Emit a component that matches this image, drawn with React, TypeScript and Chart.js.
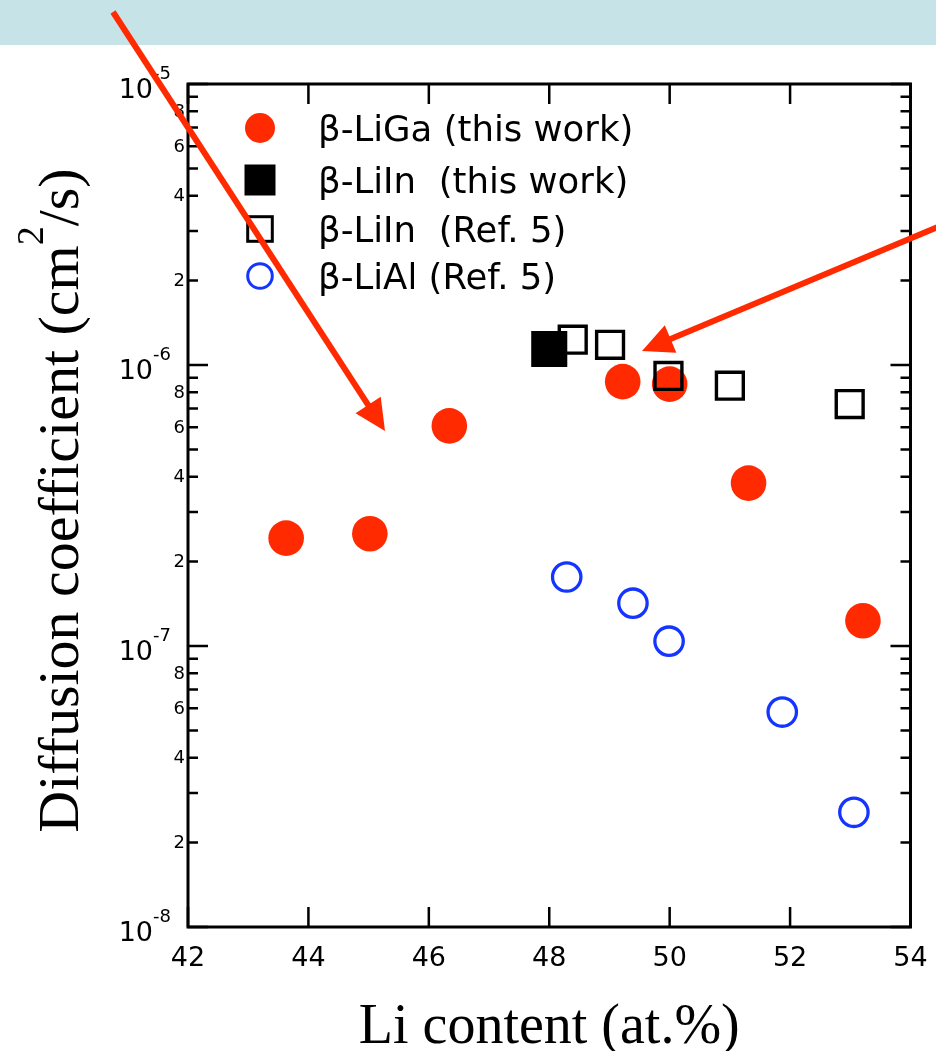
import { useEffect, useRef } from 'react';
import { Chart, registerables } from 'chart.js';

Chart.register(...registerables);

// ---- data ----
const liGaX = [43.63, 45.02, 46.34, 49.22, 50.0, 51.31, 53.21];
const liGaY = [2.42e-7, 2.51e-7, 6.07e-7, 8.73e-7, 8.55e-7, 3.8e-7, 1.23e-7];
const liInThisX = [48.0];
const liInThisY = [1.14e-6];
const liInRefX = [48.39, 49.01, 49.98, 51.0, 52.99];
const liInRefY = [1.23e-6, 1.18e-6, 9.14e-7, 8.44e-7, 7.26e-7];
const liAlX = [48.29, 49.39, 49.99, 51.87, 53.06];
const liAlY = [1.76e-7, 1.42e-7, 1.04e-7, 5.82e-8, 2.56e-8];

const seriesLabels = ['β-LiGa (this work)', 'β-LiIn  (this work)', 'β-LiIn  (Ref. 5)', 'β-LiAl (Ref. 5)'];
const xTickValues = [42, 44, 46, 48, 50, 52, 54];
const yDecades = [-8, -7, -6, -5];
const yMinorMultipliers = [2, 3, 4, 5, 6, 7, 8, 9];
const yMinorLabels = [2, 4, 6, 8];
const xTitle = 'Li content (at.%)';
const yTitleMain = 'Diffusion coefficient (cm';
const yTitleSup = '2';
const yTitleEnd = '/s)';

const RED = '#ff2a00';
const BLUE = '#1434ff';
const BAND = '#c6e4e8';
const SANS = '"DejaVu Sans", sans-serif';
const SERIF = '"Liberation Serif", "Times New Roman", serif';

const pts = (xs: number[], ys: number[]) => xs.map((x, i) => ({ x, y: ys[i] }));

function drawArrow(ctx: CanvasRenderingContext2D, x0: number, y0: number, tx: number, ty: number) {
  const dx = tx - x0, dy = ty - y0;
  const len = Math.hypot(dx, dy);
  const ux = dx / len, uy = dy / len;
  const headLen = 31, half = 15;
  const bx = tx - ux * headLen, by = ty - uy * headLen;
  ctx.save();
  ctx.strokeStyle = RED;
  ctx.fillStyle = RED;
  ctx.lineWidth = 6;
  ctx.beginPath();
  ctx.moveTo(x0, y0);
  ctx.lineTo(bx + ux * 2, by + uy * 2);
  ctx.stroke();
  ctx.beginPath();
  ctx.moveTo(tx, ty);
  ctx.lineTo(bx - uy * half, by + ux * half);
  ctx.lineTo(bx + uy * half, by - ux * half);
  ctx.closePath();
  ctx.fill();
  ctx.restore();
}

const decor = {
  id: 'decor',
  beforeDraw(chart: any) {
    const ctx = chart.ctx as CanvasRenderingContext2D;
    ctx.save();
    ctx.fillStyle = '#ffffff';
    ctx.fillRect(0, 0, chart.width, chart.height);
    ctx.fillStyle = BAND;
    ctx.fillRect(0, 0, chart.width, 45);
    ctx.restore();
  },
  afterDraw(chart: any) {
    const ctx = chart.ctx as CanvasRenderingContext2D;
    const { left, right, top, bottom } = chart.chartArea;
    const xs = chart.scales.x;
    const ys = chart.scales.y;
    ctx.save();
    ctx.strokeStyle = '#000';
    ctx.fillStyle = '#000';

    // x ticks + labels
    ctx.lineWidth = 2.5;
    ctx.font = `27px ${SANS}`;
    ctx.textAlign = 'center';
    ctx.textBaseline = 'alphabetic';
    xs.ticks.forEach((t: any) => {
      const px = xs.getPixelForValue(t.value);
      ctx.beginPath();
      ctx.moveTo(px, bottom); ctx.lineTo(px, bottom - 20);
      ctx.moveTo(px, top); ctx.lineTo(px, top + 20);
      ctx.stroke();
      ctx.fillText(String(t.value), px, 966);
    });

    // y ticks + labels
    ys.ticks.forEach((t: any) => {
      const v = t.value;
      const e = Math.log10(v);
      const dec = Math.floor(e + 1e-9);
      const major = Math.abs(e - Math.round(e)) < 1e-6;
      const mant = Math.round(v / Math.pow(10, dec));
      const py = ys.getPixelForValue(v);
      const len = major ? 20 : 10;
      ctx.beginPath();
      ctx.moveTo(left, py); ctx.lineTo(left + len, py);
      ctx.moveTo(right, py); ctx.lineTo(right - len, py);
      ctx.stroke();
      if (major) {
        ctx.textAlign = 'right';
        ctx.textBaseline = 'alphabetic';
        ctx.font = `27px ${SANS}`;
        ctx.fillText('10', 153, py + 13.5);
        ctx.textAlign = 'left';
        ctx.font = `18px ${SANS}`;
        ctx.fillText(String(Math.round(e)), 153, py - 5);
      } else if (yMinorLabels.includes(mant)) {
        ctx.textAlign = 'right';
        ctx.textBaseline = 'middle';
        ctx.font = `18px ${SANS}`;
        ctx.fillText(String(mant), 185, py + 1);
      }
    });

    // frame
    ctx.lineWidth = 3;
    ctx.strokeRect(left, top, right - left, bottom - top);

    // x title
    ctx.font = `56px ${SERIF}`;
    ctx.textAlign = 'center';
    ctx.textBaseline = 'alphabetic';
    ctx.fillText(xTitle, (left + right) / 2, 1043);

    // y title (rotated, with superscript)
    ctx.save();
    ctx.translate(78, (top + bottom) / 2 - 5);
    ctx.rotate(-Math.PI / 2);
    ctx.textAlign = 'left';
    ctx.font = `58px ${SERIF}`;
    const w1 = ctx.measureText(yTitleMain).width;
    const w3 = ctx.measureText(yTitleEnd).width;
    ctx.font = `38px ${SERIF}`;
    const w2 = ctx.measureText(yTitleSup).width;
    const total = w1 + w2 + w3;
    let cx = -total / 2;
    ctx.font = `58px ${SERIF}`;
    ctx.fillText(yTitleMain, cx, 0);
    cx += w1;
    ctx.font = `38px ${SERIF}`;
    ctx.fillText(yTitleSup, cx, -35);
    cx += w2;
    ctx.font = `58px ${SERIF}`;
    ctx.fillText(yTitleEnd, cx, 0);
    ctx.restore();

    // legend
    const rows = [128, 180, 229, 276];
    const mx = 260;
    chart.data.datasets.forEach((ds: any) => {
      const idx = ds.legendIndex;
      const cy = rows[idx];
      ctx.save();
      if (idx === 0) {
        ctx.fillStyle = RED;
        ctx.beginPath(); ctx.arc(mx, cy, 15, 0, Math.PI * 2); ctx.fill();
      } else if (idx === 1) {
        ctx.fillStyle = '#000';
        ctx.fillRect(mx - 15.5, cy - 15.5, 31, 31);
      } else if (idx === 2) {
        ctx.strokeStyle = '#000'; ctx.lineWidth = 3;
        ctx.strokeRect(mx - 12.3, cy - 12.3, 24.6, 24.6);
      } else {
        ctx.strokeStyle = BLUE; ctx.lineWidth = 3;
        ctx.beginPath(); ctx.arc(mx, cy, 12.3, 0, Math.PI * 2); ctx.stroke();
      }
      ctx.fillStyle = '#000';
      ctx.font = `35.5px ${SANS}`;
      ctx.textAlign = 'left';
      ctx.textBaseline = 'alphabetic';
      ctx.fillText(ds.label, 318, cy + 13);
      ctx.restore();
    });

    // red arrows (annotations)
    drawArrow(ctx, 113, 12, 385, 431);
    drawArrow(ctx, 940, 226, 642, 351);
    ctx.restore();
  },
};

export default function App() {
  const ref = useRef<HTMLCanvasElement | null>(null);
  useEffect(() => {
    if (!ref.current) return;
    const chart = new Chart(ref.current, {
      type: 'scatter',
      data: {
        datasets: [
          {
            label: seriesLabels[0], legendIndex: 0, order: 4,
            data: pts(liGaX, liGaY),
            pointStyle: 'circle', pointRadius: 17.8, pointHoverRadius: 17.8,
            backgroundColor: RED, borderColor: RED, borderWidth: 0,
          } as any,
          {
            label: seriesLabels[1], legendIndex: 1, order: 2,
            data: pts(liInThisX, liInThisY),
            pointStyle: 'rect', pointRadius: 25.5, pointHoverRadius: 25.5,
            backgroundColor: '#000', borderColor: '#000', borderWidth: 0,
          } as any,
          {
            label: seriesLabels[2], legendIndex: 2, order: 3,
            data: pts(liInRefX, liInRefY),
            pointStyle: 'rect', pointRadius: 19, pointHoverRadius: 19,
            backgroundColor: 'rgba(0,0,0,0)', borderColor: '#000', borderWidth: 3.4,
          } as any,
          {
            label: seriesLabels[3], legendIndex: 3, order: 1,
            data: pts(liAlX, liAlY),
            pointStyle: 'circle', pointRadius: 14.2, pointHoverRadius: 14.2,
            backgroundColor: 'rgba(0,0,0,0)', borderColor: BLUE, borderWidth: 3.3,
          } as any,
        ],
      },
      options: {
        animation: false,
        responsive: false,
        devicePixelRatio: 1,
        events: [],
        layout: { padding: { left: 0, right: 21, top: 84, bottom: 0 } },
        plugins: { legend: { display: false }, tooltip: { enabled: false }, title: { display: false } },
        scales: {
          x: {
            type: 'linear',
            min: 42,
            max: 54,
            afterBuildTicks: (s: any) => { s.ticks = xTickValues.map((v) => ({ value: v })); },
            ticks: { display: false },
            grid: { display: false, drawTicks: false },
            border: { display: false },
            afterFit: (s: any) => { s.height = 124; },
          },
          y: {
            type: 'logarithmic',
            min: 1e-8,
            max: 1e-5,
            afterBuildTicks: (s: any) => {
              const t: { value: number }[] = [];
              yDecades.forEach((d) => {
                t.push({ value: Math.pow(10, d) });
                if (d < yDecades[yDecades.length - 1]) {
                  yMinorMultipliers.forEach((m) => t.push({ value: m * Math.pow(10, d) }));
                }
              });
              s.ticks = t;
            },
            ticks: { display: false },
            grid: { display: false, drawTicks: false },
            border: { display: false },
            afterFit: (s: any) => { s.width = 188; },
          },
        },
      } as any,
      plugins: [decor],
    });
    return () => chart.destroy();
  }, []);
  return (
    <div style={{ position: 'absolute', left: 0, top: 0, width: 936, height: 1051, overflow: 'hidden' }}>
      <canvas ref={ref} width={936} height={1051} style={{ width: 936, height: 1051, display: 'block' }} />
    </div>
  );
}
